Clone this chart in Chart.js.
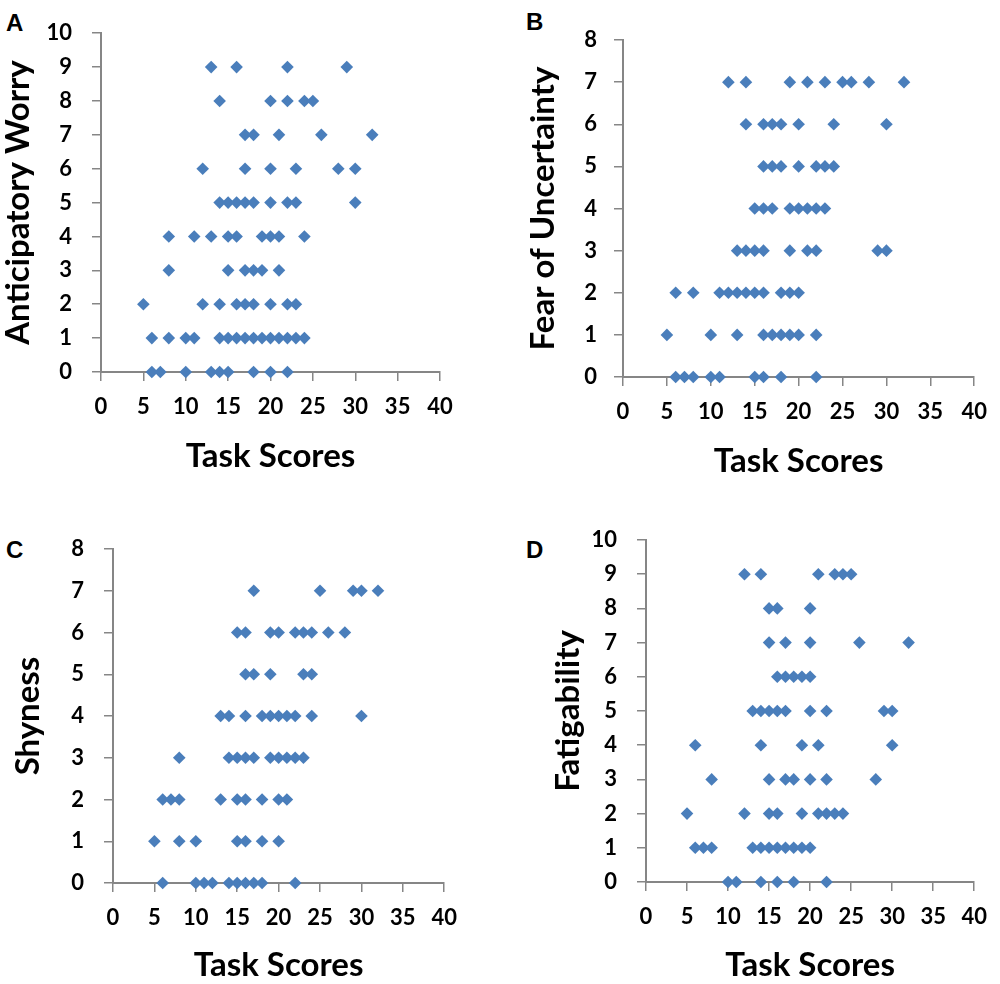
<!DOCTYPE html>
<html>
<head>
<meta charset="utf-8">
<script src="https://cdn.jsdelivr.net/npm/chart.js@4.4.1/dist/chart.umd.min.js"></script>
<style>
  body { margin: 0; background: #fff; }
  #wrap { position: relative; width: 1000px; height: 984px; overflow: hidden; }
  canvas { position: absolute; }
  .tag { position: absolute; font-family: "Liberation Sans", Arial, sans-serif; font-weight: bold; font-size: 24px; line-height: 24px; color: #000; }
</style>
</head>
<body>
<div id="wrap">
  <div class="tag" style="left:6px; top:11px;">A</div>
  <div class="tag" style="left:526px; top:10px;">B</div>
  <div class="tag" style="left:6px; top:538px;">C</div>
  <div class="tag" style="left:526px; top:538px;">D</div>
  <canvas id="chartA" width="470" height="480" style="left:0px; top:0px;"></canvas>
  <canvas id="chartB" width="480" height="490" style="left:520px; top:0px;"></canvas>
  <canvas id="chartC" width="470" height="484" style="left:0px; top:500px;"></canvas>
  <canvas id="chartD" width="480" height="484" style="left:520px; top:500px;"></canvas>
</div>
<script>
// task scores of each subject, one list per score level (index = y value)
var worry = [
  [6, 7, 10, 13, 14, 15, 18, 20, 22],
  [6, 8, 10, 11, 14, 15, 16, 17, 18, 19, 20, 21, 22, 23, 24],
  [5, 12, 14, 16, 17, 18, 20, 22, 23],
  [8, 15, 17, 18, 19, 21],
  [8, 11, 13, 15, 16, 19, 20, 21, 24],
  [14, 15, 16, 17, 18, 20, 22, 23, 30],
  [12, 17, 20, 23, 28, 30],
  [17, 18, 21, 26, 32],
  [14, 20, 22, 24, 25],
  [13, 16, 22, 29]
];

var uncertainty = [
  [6, 7, 8, 10, 11, 15, 16, 18, 22],
  [5, 10, 13, 16, 17, 18, 19, 20, 22],
  [6, 8, 11, 12, 13, 14, 15, 16, 18, 19, 20],
  [13, 14, 15, 16, 19, 21, 22, 29, 30],
  [15, 16, 17, 19, 20, 21, 22, 23],
  [16, 17, 18, 20, 22, 23, 24],
  [14, 16, 17, 18, 20, 24, 30],
  [12, 14, 19, 21, 23, 25, 26, 28, 32]
];

var shyness = [
  [6, 10, 11, 12, 14, 15, 16, 17, 18, 22],
  [5, 8, 10, 15, 16, 18, 20],
  [6, 7, 8, 13, 15, 16, 18, 20, 21],
  [8, 14, 15, 16, 17, 19, 20, 21, 22, 23],
  [13, 14, 16, 18, 19, 20, 21, 22, 24, 30],
  [16, 17, 19, 23, 24],
  [15, 16, 19, 20, 22, 23, 24, 26, 28],
  [17, 25, 29, 30, 32]
];

var fatigability = [
  [10, 11, 14, 16, 18, 22],
  [6, 7, 8, 13, 14, 15, 16, 17, 18, 19, 20],
  [5, 12, 15, 16, 19, 21, 22, 23, 24],
  [8, 15, 17, 18, 20, 22, 28],
  [6, 14, 19, 21, 30],
  [13, 14, 15, 16, 17, 20, 22, 29, 30],
  [16, 17, 18, 19, 20],
  [15, 17, 20, 26, 32],
  [15, 16, 20],
  [12, 14, 21, 23, 24, 25]
];

var xTitle = "Task Scores";
var xMax = 40;
var xStep = 5;

var blue = '#4a7ebb';
var axisGray = '#868686';
var tickFont = { family: 'Lato', size: 22, weight: 'bold' };
var titleFont = { family: 'Lato', size: 33, weight: 'bold', lineHeight: 1 };

function panel(id, rows, yMax, yTitle, box) {
  var points = [];
  for (var y = 0; y < rows.length; y++) {
    for (var i = 0; i < rows[y].length; i++) {
      points.push({ x: rows[y][i], y: y });
    }
  }

  var ctx = document.getElementById(id).getContext('2d');
  return new Chart(ctx, {
    type: 'scatter',
    data: {
      datasets: [{
        data: points,
        pointStyle: 'rectRot',
        pointRadius: 6.3,
        pointHoverRadius: 6.3,
        backgroundColor: blue,
        borderColor: blue,
        borderWidth: 0,
        clip: false
      }]
    },
    options: {
      responsive: false,
      animation: false,
      layout: { padding: { left: 0, top: box.top, right: box.right, bottom: 0 } },
      plugins: { legend: { display: false }, tooltip: { enabled: false } },
      scales: {
        x: {
          type: 'linear',
          min: 0,
          max: xMax,
          afterFit: function (s) { s.height = box.xh; },
          ticks: { stepSize: xStep, color: '#000', font: tickFont, padding: 13, maxRotation: 0 },
          grid: { drawOnChartArea: false, color: axisGray, lineWidth: 1.5, tickLength: 9 },
          border: { color: axisGray, width: 2 },
          title: { display: true, text: xTitle, color: '#000', font: titleFont, padding: { top: 0, bottom: box.xpb } }
        },
        y: {
          type: 'linear',
          min: 0,
          max: yMax,
          afterFit: function (s) { s.width = box.yw; },
          ticks: { stepSize: 1, color: '#000', font: tickFont, padding: box.ytp },
          grid: { drawOnChartArea: false, color: axisGray, lineWidth: 1.5, tickLength: 9 },
          border: { color: axisGray, width: 2 },
          title: { display: true, text: yTitle, color: '#000', font: titleFont, padding: { top: box.ypt, bottom: 0 } }
        }
      }
    }
  });
}

panel('chartA', worry, 10, 'Anticipatory Worry', { top: 30, right: 30, xh: 108, yw: 101, xpb: 7, ypt: 2, ytp: 20 });
panel('chartB', uncertainty, 8, 'Fear of Uncertainty', { top: 40, right: 20, xh: 113, yw: 103, xpb: 12, ypt: 7, ytp: 17 });
panel('chartC', shyness, 8, 'Shyness', { top: 49, right: 22, xh: 101, yw: 113, xpb: 2, ypt: 12, ytp: 20 });
panel('chartD', fatigability, 10, 'Fatigability', { top: 40, right: 17, xh: 102, yw: 126, xpb: 2, ypt: 32, ytp: 20 });
</script>
</body>
</html>
